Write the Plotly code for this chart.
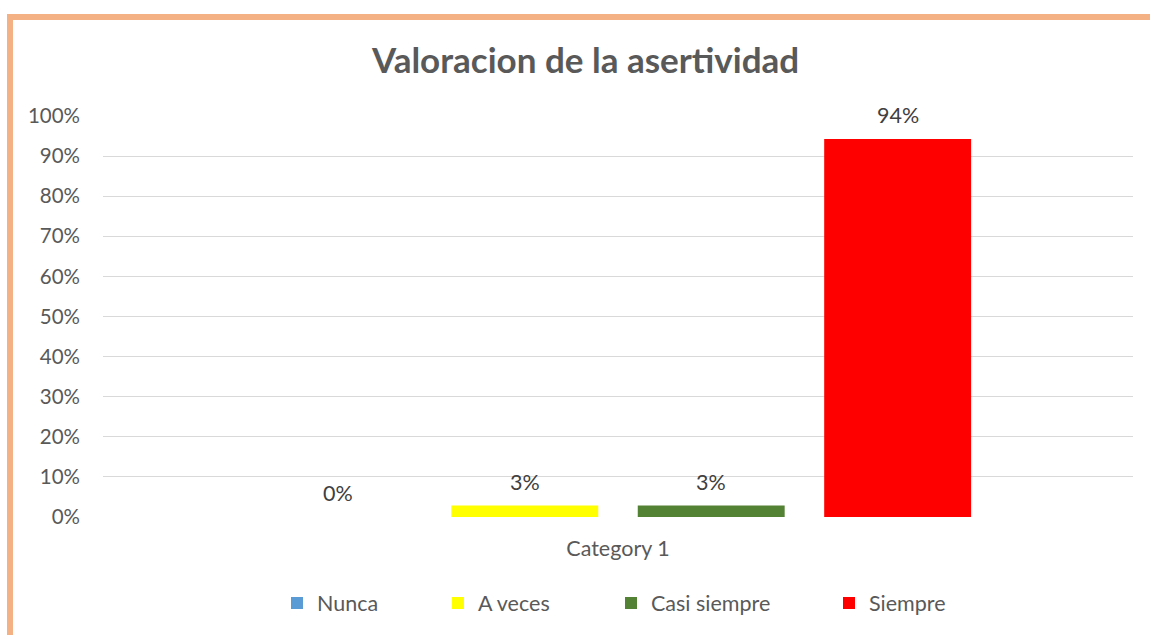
import plotly.graph_objects as go

categories = ["Category 1"]
series_names = ["Nunca", "A veces", "Casi siempre", "Siempre"]
values = [0.0, 0.0286, 0.0286, 0.9429]
colors = ["#5B9BD5", "#FFFF00", "#548235", "#FF0000"]
y_ticks = [i / 10 for i in range(11)]
title_text = "Valoracion de la asertividad"

W, H = 1150, 635
ML, MR, MT, MB = 103, 17, 116, 118
PW = W - ML - MR
PH = H - MT - MB
BARGAP = 0.276
BARGROUPGAP = 0.212

FONT = "Lato, Calibri, Carlito, sans-serif"
GRAY = "#595959"

legend_names = ["legend", "legend2", "legend3", "legend4"]
legend_px = [277, 438, 611, 829]

fig = go.Figure()
for i, (name, val, col) in enumerate(zip(series_names, values, colors)):
    fig.add_trace(go.Bar(
        x=categories, y=[val], name=name, marker=dict(color=col, line=dict(width=0)),
        legend=legend_names[i], hoverinfo="name+y",
    ))

pitch = (1 - BARGAP) * PW / len(series_names)
annotations = []
for i, val in enumerate(values):
    off = (i - (len(values) - 1) / 2) * pitch
    annotations.append(dict(
        x=categories[0], y=val, xref="x", yref="y", text=f"{val:.0%}",
        showarrow=False, xshift=off, yshift=24, yanchor="middle",
        font=dict(family=FONT, size=21.5, color="#404040"),
    ))
annotations.append(dict(
    x=(585 - ML) / PW, y=(H - MB - 59) / PH, xref="paper", yref="paper",
    text=f"<b>{title_text}</b>", showarrow=False, xanchor="center", yanchor="middle",
    font=dict(family=FONT, size=35, color=GRAY),
))

layout_legends = {}
for ln, px in zip(legend_names, legend_px):
    layout_legends[ln] = dict(
        x=(px - ML) / PW, xanchor="left", y=(H - MB - 603) / PH, yanchor="middle",
        orientation="h", font=dict(family=FONT, size=21.5, color=GRAY),
        bgcolor="rgba(0,0,0,0)", borderwidth=0, itemwidth=30,
    )

fig.update_layout(
    width=W, height=H,
    margin=dict(l=ML, r=MR, t=MT, b=MB, autoexpand=False),
    paper_bgcolor="white", plot_bgcolor="white",
    barmode="group", bargap=BARGAP, bargroupgap=BARGROUPGAP,
    showlegend=True,
    annotations=annotations,
    xaxis=dict(
        showgrid=False, zeroline=False, showline=False, ticks="",
        tickfont=dict(family=FONT, size=21.5, color=GRAY), ticklabelstandoff=16,
    ),
    yaxis=dict(
        range=[0, 1], tickvals=y_ticks, tickformat=".0%",
        showgrid=True, gridcolor="#D9D9D9", gridwidth=1.3, zeroline=False,
        showline=False, ticks="",
        tickfont=dict(family=FONT, size=20.5, color=GRAY), ticklabelstandoff=22,
    ),
    shapes=[dict(
        type="rect", xref="paper", yref="paper",
        x0=(10 - ML) / PW, x1=(W + 40 - ML) / PW,
        y0=(H - MB - (H + 40)) / PH, y1=(H - MB - 17) / PH,
        line=dict(color="#F4B183", width=6), fillcolor="rgba(0,0,0,0)", layer="above",
    )],
    **layout_legends,
)

fig.write_html("out.html", config={"displayModeBar": False})

# remove the default page margin so the figure sits at the window's origin
with open("out.html", encoding="utf-8") as f:
    html = f.read()
html = html.replace("<body>", '<body style="margin:0;overflow:hidden">', 1)
with open("out.html", "w", encoding="utf-8") as f:
    f.write(html)
